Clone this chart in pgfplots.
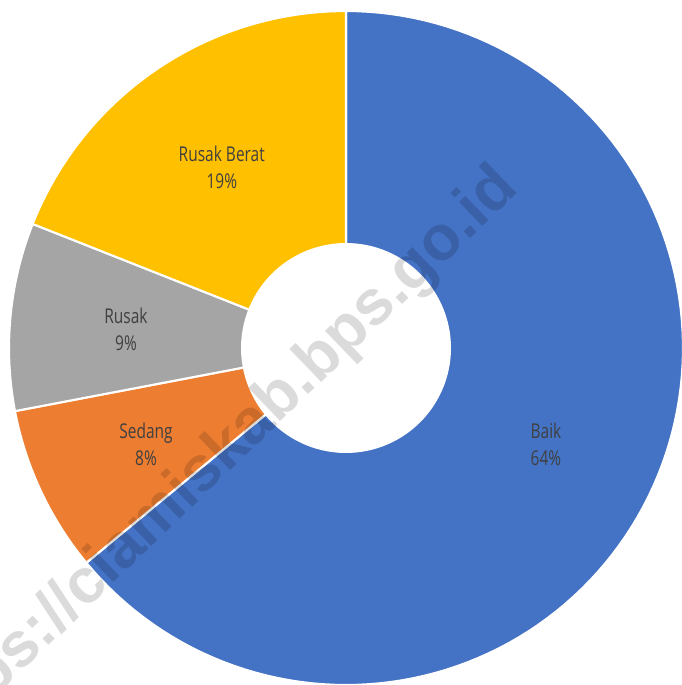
\documentclass[border=0pt]{standalone}
\usepackage{pgfplots}
\pgfplotsset{compat=1.18}
\usepackage{fontspec}
\setmainfont{Liberation Sans}
\newfontfamily\labfont[FakeStretch=0.76]{Open Sans}
\definecolor{cBaik}{HTML}{4472C4}
\definecolor{cSedang}{HTML}{ED7D31}
\definecolor{cRusak}{HTML}{A5A5A5}
\definecolor{cBerat}{HTML}{FFC000}
\definecolor{labgray}{HTML}{404040}

% shares (percent), clockwise from 12 o'clock
\def\vBaik{64}
\def\vSedang{8}
\def\vRusak{9}
\def\vBerat{19}
\def\rOut{337}
\def\rIn{105}

\begin{document}
\begin{tikzpicture}
\pgfmathsetmacro{\aA}{90}
\pgfmathsetmacro{\aB}{\aA-3.6*\vBaik}
\pgfmathsetmacro{\aC}{\aB-3.6*\vSedang}
\pgfmathsetmacro{\aD}{\aC-3.6*\vRusak}
\pgfmathsetmacro{\aE}{\aD-3.6*\vBerat}
\pgfmathsetmacro{\rMid}{(\rOut+\rIn)/2}
\begin{axis}[
    scale only axis,
    width=6.82cm, height=6.85cm,
    xmin=-346, xmax=336,
    ymin=-337, ymax=348,
    axis lines=none,
    clip=true,
]
    \addplot[fill=cBaik, draw=white, line width=0.6pt, data cs=polar,
        domain=\aB:\aA, samples=120] ({x},{\rOut}) -- (axis cs:0,0) -- cycle;
    \addplot[fill=cSedang, draw=white, line width=0.6pt, data cs=polar,
        domain=\aC:\aB, samples=30] ({x},{\rOut}) -- (axis cs:0,0) -- cycle;
    \addplot[fill=cRusak, draw=white, line width=0.6pt, data cs=polar,
        domain=\aD:\aC, samples=30] ({x},{\rOut}) -- (axis cs:0,0) -- cycle;
    \addplot[fill=cBerat, draw=white, line width=0.6pt, data cs=polar,
        domain=\aE:\aD, samples=50] ({x},{\rOut}) -- (axis cs:0,0) -- cycle;
    % hole
    \addplot[fill=white, draw=none, data cs=polar,
        domain=0:360, samples=120] ({x},{\rIn}) -- cycle;

    % watermark
    \node[rotate=44, anchor=east, text=black, opacity=0.14,
        font=\fontsize{18}{20}\selectfont\bfseries]
        at (axis cs:172,178) {https://ciamiskab.bps.go.id};

    % slice labels
    \addplot[draw=none, mark=none, data cs=polar,
        nodes near coords, point meta=explicit symbolic,
        every node near coord/.append style={anchor=center, align=center,
            text=labgray, yshift=-0.6pt,
            font=\labfont\fontsize{5.8}{7.7}\selectfont}]
    coordinates {
        ({(\aA+\aB)/2},\rMid) [Baik\\64\%]
        ({(\aB+\aC)/2},\rMid) [Sedang\\8\%]
        ({(\aC+\aD)/2},\rMid) [Rusak\\9\%]
        ({(\aD+\aE)/2},\rMid) [Rusak Berat\\19\%]
    };
\end{axis}
\pgfresetboundingbox
\useasboundingbox (current axis.south west) rectangle (current axis.north east);
\end{tikzpicture}
\end{document}
